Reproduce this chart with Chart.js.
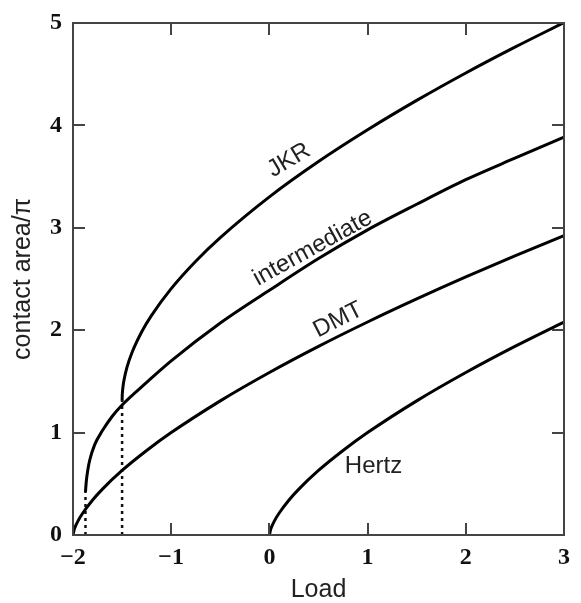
<!DOCTYPE html>
<html>
<head>
<meta charset="utf-8">
<script src="https://cdn.jsdelivr.net/npm/chart.js@4.4.1/dist/chart.umd.min.js"></script>
<style>
  body { margin: 0; background: #fff; }
  #wrap { width: 581px; height: 603px; }
</style>
</head>
<body>
<div id="wrap"><canvas id="chart"></canvas></div>
<script>
// contact area vs load: Hertz, DMT, intermediate, JKR

const xTicks = [-2, -1, 0, 1, 2, 3];
const xTickLabels = ['\u22122', '\u22121', '0', '1', '2', '3'];
const yTicks = [0, 1, 2, 3, 4, 5];
const yTickLabels = ['0', '1', '2', '3', '4', '5'];

const jkrLoad = [-1.5, -1.499, -1.497, -1.495, -1.49, -1.48, -1.45, -1.4, -1.3, -1.2, -1, -0.75, -0.5, 0, 0.5, 1, 1.5, 2, 2.5, 3];
const jkrArea = [1.31, 1.356, 1.389, 1.412, 1.455, 1.516, 1.639, 1.78, 1.985, 2.145, 2.406, 2.674, 2.904, 3.302, 3.647, 3.957, 4.244, 4.512, 4.764, 5.004];

const intLoad = [-1.873, -1.865, -1.85, -1.83, -1.78, -1.7, -1.6, -1.5, -1.25, -1, -0.5, 0, 0.5, 1, 1.5, 2, 2.5, 3];
const intArea = [0.42, 0.52, 0.63, 0.73, 0.88, 1.02, 1.16, 1.27, 1.49, 1.7, 2.07, 2.39, 2.7, 2.98, 3.23, 3.47, 3.68, 3.885];

const dmtLoad = [-2, -1.99, -1.98, -1.95, -1.9, -1.8, -1.7, -1.5, -1.25, -1, -0.5, 0, 0.5, 1, 1.5, 2, 2.5, 3];
const dmtArea = [0, 0.046, 0.074, 0.136, 0.215, 0.342, 0.448, 0.63, 0.825, 1, 1.31, 1.587, 1.842, 2.08, 2.305, 2.52, 2.726, 2.924];

const hertzLoad = [0, 0.01, 0.02, 0.05, 0.1, 0.2, 0.3, 0.5, 0.75, 1, 1.5, 2, 2.5, 3];
const hertzArea = [0, 0.046, 0.074, 0.136, 0.215, 0.342, 0.448, 0.63, 0.825, 1, 1.31, 1.587, 1.842, 2.08];

// pull-off points (dotted drops to the axis)
const pulloffLoad = [-1.873, -1.5];
const pulloffArea = [0.42, 1.31];

// curve names, placed in data coordinates
const curveNames = ['JKR', 'intermediate', 'DMT', 'Hertz'];
const nameLoad = [0.2, 0.44, 0.7, 1.06];
const nameArea = [3.66, 2.8, 2.1, 0.67];
const nameAngle = [-31, -29, -27, 0];

function toPoints(xs, ys) {
    return xs.map((x, i) => ({ x: x, y: ys[i] }));
}

const curveStyle = {
    borderColor: '#000',
    borderWidth: 3,
    pointRadius: 0,
    fill: false,
    cubicInterpolationMode: 'monotone'
};

const datasets = [
    Object.assign({ label: 'JKR', data: toPoints(jkrLoad, jkrArea) }, curveStyle),
    Object.assign({ label: 'intermediate', data: toPoints(intLoad, intArea) }, curveStyle),
    Object.assign({ label: 'DMT', data: toPoints(dmtLoad, dmtArea) }, curveStyle),
    Object.assign({ label: 'Hertz', data: toPoints(hertzLoad, hertzArea) }, curveStyle)
];

pulloffLoad.forEach((x, i) => {
    datasets.push({
        label: 'pull-off ' + i,
        data: [{ x: x, y: 0 }, { x: x, y: pulloffArea[i] }],
        borderColor: '#111',
        borderWidth: 2.5,
        borderDash: [3, 4],
        pointRadius: 0,
        fill: false
    });
});

// frame round the plot with inward ticks on all four sides, plus curve names
const framePlugin = {
    id: 'frame',
    afterDatasetsDraw(chart) {
        const ctx = chart.ctx;
        const area = chart.chartArea;
        const xs = chart.scales.x;
        const ys = chart.scales.y;
        const tick = 12;

        ctx.save();
        ctx.strokeStyle = '#444';
        ctx.lineWidth = 2;
        ctx.strokeRect(area.left, area.top, area.right - area.left, area.bottom - area.top);

        ctx.beginPath();
        xTicks.forEach(v => {
            const px = Math.round(xs.getPixelForValue(v));
            ctx.moveTo(px, area.bottom);
            ctx.lineTo(px, area.bottom - tick);
            ctx.moveTo(px, area.top);
            ctx.lineTo(px, area.top + tick);
        });
        yTicks.forEach(v => {
            const py = Math.round(ys.getPixelForValue(v));
            ctx.moveTo(area.left, py);
            ctx.lineTo(area.left + tick, py);
            ctx.moveTo(area.right, py);
            ctx.lineTo(area.right - tick, py);
        });
        ctx.stroke();

        ctx.fillStyle = '#222';
        ctx.font = '24px "Liberation Sans", Arial, sans-serif';
        ctx.textAlign = 'center';
        ctx.textBaseline = 'middle';
        curveNames.forEach((name, i) => {
            ctx.save();
            ctx.translate(xs.getPixelForValue(nameLoad[i]), ys.getPixelForValue(nameArea[i]));
            ctx.rotate(nameAngle[i] * Math.PI / 180);
            ctx.fillText(name, 0, 0);
            ctx.restore();
        });
        ctx.restore();
    }
};

const tickFont = { family: '"Liberation Serif", "Times New Roman", serif', size: 24, weight: 'bold', lineHeight: 1 };
const titleFont = { family: '"Liberation Sans", Arial, sans-serif', size: 25, lineHeight: 1 };

new Chart(document.getElementById('chart'), {
    type: 'line',
    data: { datasets: datasets },
    plugins: [framePlugin],
    options: {
        responsive: true,
        maintainAspectRatio: false,
        animation: false,
        layout: { padding: { left: 0, right: 8, top: 23, bottom: 0 } },
        plugins: {
            legend: { display: false },
            tooltip: { enabled: false }
        },
        scales: {
            x: {
                type: 'linear',
                position: 'bottom',
                min: -2,
                max: 3,
                grid: { display: false, drawTicks: false },
                border: { display: false },
                afterBuildTicks: scale => { scale.ticks = xTicks.map(v => ({ value: v })); },
                afterFit: scale => { scale.height = 68; },
                ticks: {
                    font: tickFont,
                    color: '#111',
                    padding: 11,
                    maxRotation: 0,
                    callback: (value, index) => xTickLabels[index]
                },
                title: {
                    display: true,
                    text: 'Load',
                    font: titleFont,
                    color: '#222',
                    padding: { top: 0, bottom: 0 }
                }
            },
            y: {
                type: 'linear',
                position: 'left',
                min: 0,
                max: 5,
                grid: { display: false, drawTicks: false },
                border: { display: false },
                afterBuildTicks: scale => { scale.ticks = yTicks.map(v => ({ value: v })); },
                afterFit: scale => { scale.width = 73; },
                ticks: {
                    font: tickFont,
                    color: '#111',
                    padding: 11,
                    callback: (value, index) => yTickLabels[index]
                },
                title: {
                    display: true,
                    text: 'contact area/\u03c0',
                    font: titleFont,
                    color: '#222',
                    padding: { top: 11, bottom: 0 }
                }
            }
        }
    }
});
</script>
</body>
</html>
